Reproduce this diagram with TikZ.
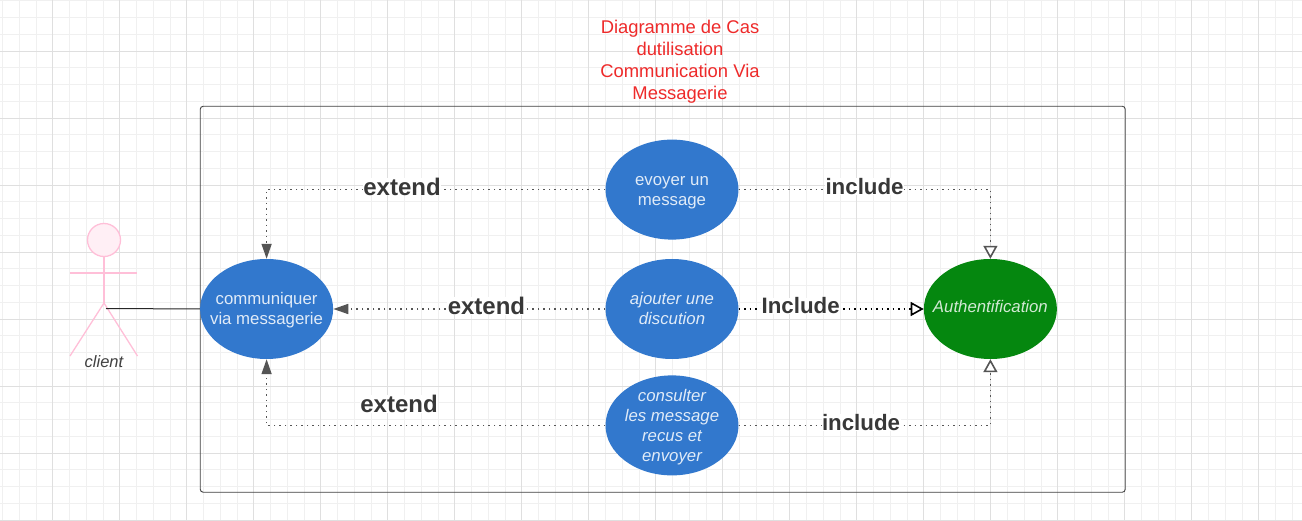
\documentclass[tikz,border=0pt]{standalone}
\usepackage{fontspec}
\setmainfont{Liberation Sans}
\usetikzlibrary{arrows.meta,shapes.geometric,positioning}
\definecolor{minorgrid}{HTML}{F0F0F0}
\definecolor{majorgrid}{HTML}{DFDFDF}
\definecolor{casblue}{HTML}{3278CD}
\definecolor{casgreen}{HTML}{05870F}
\definecolor{actorpink}{HTML}{FFBFD8}
\definecolor{linkgray}{HTML}{555555}
\definecolor{titlered}{HTML}{EE2A2A}
\newcommand{\casestrut}{\rule{0pt}{18pt}}
\tikzset{
  usecase/.style={ellipse,minimum width=133pt,minimum height=100pt,inner sep=-14pt,
    fill=casblue,text=white!85!casblue,align=center,font=\fontsize{16.8}{20}\selectfont},
  actorline/.style={draw=actorpink,line width=1.3pt},
  link/.style={draw=linkgray,line width=1.6pt,dash pattern=on 1.6pt off 3.9pt},
  lbl/.style={fill=white,inner xsep=0.5pt,inner ysep=0pt,text=black!78,font=\fontsize{24}{26}\selectfont\bfseries},
  lblb/.style={lbl,font=\fontsize{22.3}{26}\selectfont\bfseries},
  solidtip/.tip={Triangle[length=15pt,width=10pt]},
  opentip/.tip={Triangle[open,length=13pt,width=14pt]}
}
\begin{document}
\begin{tikzpicture}[x=1pt,y=-1pt,node distance=19pt]

            \useasboundingbox (0,0) rectangle (1302,521);

            \fill[white] (0,0) rectangle (1302,521);

            \foreach \i in {0,...,77} {
                \draw[minorgrid,line width=1pt] ({2.7+16.75*\i},0) -- ({2.7+16.75*\i},521);
            }
            \foreach \i in {0,...,31} {
                \draw[minorgrid,line width=1pt] (0,{0.9+16.75*\i}) -- (1302,{0.9+16.75*\i});
            }
            \foreach \i in {0,...,19} {
                \draw[majorgrid,line width=1pt] ({52.9+67*\i},0) -- ({52.9+67*\i},521);
            }
            \foreach \i in {0,...,7} {
                \draw[majorgrid,line width=1pt] (0,{51.4+67*\i}) -- (1302,{51.4+67*\i});
            }

            \node[text=titlered,align=center,font=\fontsize{18.4}{22}\selectfont] (title) at (680,62)
                {Diagramme de Cas\\dutilisation\\Communication Via\\Messagerie};

            \node[draw=black!75,line width=0.9pt,rounded corners=3pt,minimum width=925pt,
                minimum height=386pt,inner sep=0pt] (frame) at (662.75,299.25) {};

            \node[usecase] (ajouter) at (672,309) {\itshape\casestrut ajouter une\\\itshape discution\strut};
            \node[usecase] (evoyer) [above=19pt of ajouter] {\casestrut evoyer un\\message\strut};
            \node[usecase] (consulter) [below=16pt of ajouter] {\itshape\casestrut consulter\\\itshape les message\\\itshape recus et\\\itshape envoyer\strut};
            \node[usecase] (communiquer) [left=272pt of ajouter] {\casestrut communiquer\\via messagerie\strut};
            \node[usecase,fill=casgreen,text=white!82!casgreen] (auth) [right=185pt of ajouter] {\raisebox{0.5pt}{\itshape Authentification\strut}};

            % actor
            \node[circle,actorline,fill=actorpink!25,minimum size=33pt,inner sep=0pt] (head) at (104,240) {};
            \coordinate (hip) at (104,303);
            \coordinate (handl) at (70,273);
            \coordinate (handr) at (137,273);
            \coordinate (footl) at (70,356);
            \coordinate (footr) at (137.5,356);
            \draw[actorline] (head) -- (hip);
            \draw[actorline] (handl) -- (handr);
            \draw[actorline] (footl) -- (hip) -- (footr);
            \node[text=black!75,font=\fontsize{16.5}{18}\selectfont\itshape] (client) at (104,362) {client};

            \coordinate (start) at (106,308.5);
            \draw[black!85,line width=1pt] (start) -- (communiquer.west);

            \path[link] (evoyer.west) edge [-{solidtip[linkgray,fill=linkgray]},to path={-| (\tikztotarget) \tikztonodes}] node[lbl,pos=.3,yshift=3pt] (e1) {extend} (communiquer.north);
            \path[link] (ajouter.west) edge [-{solidtip[linkgray,fill=linkgray]}] node[lbl,pos=.437,yshift=3pt] (e2) {extend} (communiquer.east);
            \path[link] (consulter.west) edge [-{solidtip[linkgray,fill=linkgray]},to path={-| (\tikztotarget) \tikztonodes}] (communiquer.south);
            \node[lbl] (e3) at (399,404) {extend};

            \path[link] (evoyer.east) edge [-{opentip[linkgray,fill=white]},to path={-| (\tikztotarget) \tikztonodes}] node[lblb,pos=.25,yshift=3pt] (i1) {include} (auth.north);
            \path[link,draw=black] (ajouter.east) edge [-{opentip[black,fill=white]}] node[lblb,pos=.335,yshift=3pt] (i2) {Include} (auth.west);
            \path[link] (consulter.east) edge [-{opentip[linkgray,fill=white]},to path={-| (\tikztotarget) \tikztonodes}] node[lblb,pos=.243,yshift=3pt] (i3) {include} (auth.south);

        \end{tikzpicture}
\end{document}
